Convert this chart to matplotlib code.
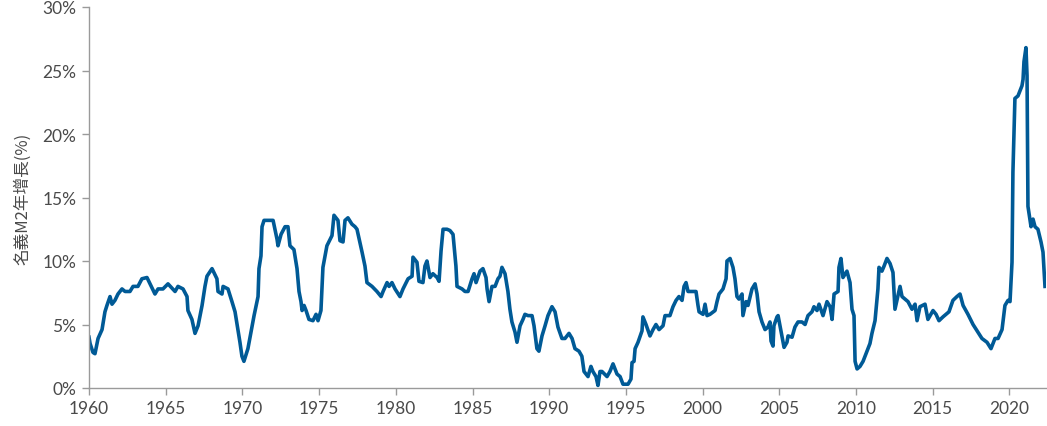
import matplotlib
matplotlib.use("Agg")
import matplotlib.pyplot as plt
from matplotlib.ticker import FuncFormatter

# Decimal year and nominal M2 YoY growth (%)
years = [
    1960.00, 1960.07, 1960.26, 1960.39, 1960.59, 1960.85, 1961.04, 1961.17, 1961.37, 1961.50,
    1961.69, 1961.89, 1962.15, 1962.35, 1962.67, 1962.87, 1963.19, 1963.45, 1963.78, 1963.98,
    1964.30, 1964.50, 1964.82, 1965.15, 1965.61, 1965.80, 1966.13, 1966.39, 1966.45, 1966.71,
    1966.91, 1967.11, 1967.37, 1967.56, 1967.69, 1968.02, 1968.34, 1968.41, 1968.67, 1968.74,
    1969.06, 1969.32, 1969.52, 1969.71, 1969.84, 1969.97, 1970.10, 1970.36, 1970.56, 1970.76,
    1971.02, 1971.08, 1971.21, 1971.28, 1971.41, 1971.67, 1972.00, 1972.26, 1972.32, 1972.52,
    1972.78, 1972.97, 1973.10, 1973.36, 1973.56, 1973.69, 1973.82, 1973.89, 1974.02, 1974.15,
    1974.34, 1974.60, 1974.80, 1974.93, 1975.12, 1975.25, 1975.51, 1975.84, 1975.97, 1976.23,
    1976.36, 1976.56, 1976.69, 1976.88, 1977.14, 1977.34, 1977.47, 1977.80, 1977.99, 1978.12,
    1978.45, 1978.77, 1979.04, 1979.17, 1979.43, 1979.56, 1979.75, 1979.95, 1980.27, 1980.47,
    1980.80, 1981.06, 1981.12, 1981.38, 1981.51, 1981.77, 1981.90, 1982.03, 1982.23, 1982.42,
    1982.69, 1982.82, 1982.95, 1983.08, 1983.34, 1983.53, 1983.73, 1983.92, 1983.99, 1984.32,
    1984.51, 1984.71, 1984.97, 1985.10, 1985.23, 1985.49, 1985.68, 1985.88, 1985.95, 1986.08,
    1986.27, 1986.47, 1986.66, 1986.79, 1986.92, 1987.12, 1987.31, 1987.44, 1987.57, 1987.77,
    1987.90, 1988.10, 1988.29, 1988.42, 1988.62, 1988.88, 1989.01, 1989.20, 1989.33, 1989.53,
    1989.73, 1989.92, 1990.18, 1990.38, 1990.57, 1990.83, 1991.03, 1991.29, 1991.49, 1991.68,
    1991.94, 1992.13, 1992.27, 1992.53, 1992.72, 1992.85, 1993.05, 1993.18, 1993.31, 1993.44,
    1993.77, 1993.96, 1994.16, 1994.42, 1994.62, 1994.81, 1995.14, 1995.33, 1995.40, 1995.53,
    1995.60, 1995.79, 1996.05, 1996.11, 1996.31, 1996.57, 1996.77, 1996.96, 1997.16, 1997.42,
    1997.55, 1997.87, 1998.07, 1998.27, 1998.46, 1998.66, 1998.79, 1998.92, 1999.05, 1999.37,
    1999.57, 1999.70, 1999.77, 2000.03, 2000.16, 2000.29, 2000.48, 2000.81, 2000.94, 2001.07,
    2001.33, 2001.53, 2001.59, 2001.79, 2001.98, 2002.11, 2002.24, 2002.37, 2002.57, 2002.63,
    2002.83, 2002.96, 2003.22, 2003.42, 2003.55, 2003.68, 2003.87, 2004.07, 2004.26, 2004.39,
    2004.46, 2004.59, 2004.65, 2004.85, 2004.92, 2005.11, 2005.31, 2005.50, 2005.57, 2005.83,
    2006.02, 2006.22, 2006.48, 2006.68, 2006.87, 2007.13, 2007.26, 2007.46, 2007.59, 2007.85,
    2008.11, 2008.31, 2008.44, 2008.57, 2008.83, 2008.89, 2009.02, 2009.15, 2009.41, 2009.61,
    2009.74, 2009.87, 2009.94, 2010.07, 2010.26, 2010.46, 2010.72, 2010.91, 2011.04, 2011.24,
    2011.43, 2011.50, 2011.69, 2011.83, 2012.02, 2012.22, 2012.41, 2012.54, 2012.67, 2012.87,
    2013.00, 2013.19, 2013.39, 2013.65, 2013.85, 2013.98, 2014.17, 2014.50, 2014.69, 2015.02,
    2015.22, 2015.41, 2015.67, 2015.87, 2016.06, 2016.32, 2016.58, 2016.78, 2016.98, 2017.30,
    2017.63, 2017.95, 2018.21, 2018.54, 2018.80, 2019.06, 2019.26, 2019.52, 2019.71, 2019.91,
    2020.04, 2020.17, 2020.23, 2020.36, 2020.56, 2020.82, 2020.89, 2020.95, 2021.08, 2021.15,
    2021.21, 2021.41, 2021.54, 2021.67, 2021.86, 2022.06, 2022.19, 2022.32,
]
m2_growth = [
    4.0, 3.5, 2.8, 2.7, 3.9, 4.6, 6.0, 6.5, 7.2, 6.6,
    6.9, 7.4, 7.8, 7.6, 7.6, 8.0, 8.0, 8.6, 8.7, 8.2,
    7.4, 7.8, 7.8, 8.2, 7.6, 8.0, 7.8, 7.2, 6.1, 5.4,
    4.3, 4.9, 6.5, 8.0, 8.8, 9.4, 8.6, 7.6, 7.4, 8.0,
    7.8, 6.8, 6.0, 4.6, 3.6, 2.5, 2.1, 3.1, 4.4, 5.7,
    7.2, 9.4, 10.4, 12.7, 13.2, 13.2, 13.2, 11.7, 11.2, 12.1,
    12.7, 12.7, 11.2, 10.9, 9.4, 7.6, 6.8, 6.1, 6.5, 6.1,
    5.4, 5.3, 5.8, 5.3, 6.1, 9.5, 11.2, 12.0, 13.6, 13.2,
    11.6, 11.5, 13.2, 13.4, 12.9, 12.7, 12.5, 10.7, 9.6, 8.3,
    8.0, 7.6, 7.2, 7.6, 8.3, 8.0, 8.3, 7.8, 7.2, 7.8,
    8.6, 8.8, 10.3, 9.9, 8.4, 8.3, 9.6, 10.0, 8.7, 9.0,
    8.7, 8.4, 10.8, 12.5, 12.5, 12.4, 12.1, 9.6, 8.0, 7.8,
    7.6, 7.6, 8.6, 9.0, 8.3, 9.2, 9.4, 8.7, 7.8, 6.8,
    8.0, 8.0, 8.6, 8.8, 9.5, 9.0, 7.6, 6.2, 5.2, 4.4,
    3.6, 4.9, 5.4, 5.8, 5.7, 5.7, 4.9, 3.1, 2.9, 4.1,
    4.9, 5.7, 6.4, 6.0, 4.8, 3.9, 3.9, 4.3, 3.9, 3.1,
    2.9, 2.5, 1.3, 0.9, 1.7, 1.3, 0.9, 0.2, 1.3, 1.3,
    0.9, 1.3, 1.9, 1.1, 0.9, 0.3, 0.3, 0.7, 2.0, 2.1,
    3.1, 3.6, 4.5, 5.6, 5.0, 4.1, 4.6, 5.0, 4.6, 4.9,
    5.7, 5.7, 6.4, 6.9, 7.2, 6.9, 8.0, 8.3, 7.6, 7.6,
    7.6, 6.5, 6.0, 5.8, 6.6, 5.7, 5.8, 6.1, 6.8, 7.4,
    7.8, 8.6, 10.0, 10.2, 9.5, 8.6, 7.2, 7.0, 7.4, 5.7,
    6.8, 6.5, 7.8, 8.2, 7.4, 6.0, 5.2, 4.6, 4.8, 5.2,
    3.7, 3.3, 4.9, 5.6, 5.7, 4.5, 3.2, 3.6, 4.1, 4.0,
    4.8, 5.2, 5.2, 5.0, 5.7, 6.0, 6.4, 6.1, 6.6, 5.7,
    6.8, 6.4, 5.4, 7.4, 7.6, 9.5, 10.2, 8.7, 9.2, 8.3,
    6.2, 5.7, 2.1, 1.5, 1.7, 2.1, 2.9, 3.5, 4.3, 5.3,
    7.8, 9.5, 9.2, 9.6, 10.2, 9.8, 9.1, 6.2, 6.9, 8.0,
    7.2, 7.0, 6.8, 6.2, 6.6, 5.3, 6.4, 6.6, 5.4, 6.1,
    5.8, 5.3, 5.6, 5.8, 6.0, 6.9, 7.2, 7.4, 6.5, 5.8,
    5.0, 4.4, 3.9, 3.6, 3.1, 3.9, 3.9, 4.6, 6.5, 6.9,
    6.8, 9.9, 17.0, 22.8, 23.0, 23.8, 24.3, 25.7, 26.8, 24.6,
    14.3, 12.7, 13.3, 12.7, 12.5, 11.5, 10.7, 8.0,
]
x_ticks = [1960, 1965, 1970, 1975, 1980, 1985, 1990, 1995, 2000, 2005, 2010, 2015, 2020]
y_ticks = [0, 5, 10, 15, 20, 25, 30]
y_label = "名義M2年增長(%)"

plt.rcParams['font.family'] = ['Lato', 'Noto Sans CJK TC', 'DejaVu Sans']

fig = plt.figure(figsize=(10.47, 4.27), dpi=100)
ax = fig.add_axes([89 / 1047, 1 - 389 / 427, (1046 - 89) / 1047, (389 - 8) / 427])

ax.plot(years, m2_growth, color='#005A96', linewidth=2.6, solid_joinstyle='round')

ax.set_xlim(1960, 1960 + (1046 - 89) / 15.34)
ax.set_ylim(0, 30)
ax.set_xticks(x_ticks)
ax.set_yticks(y_ticks)
ax.yaxis.set_major_formatter(FuncFormatter(lambda v, p: f"{int(v)}%"))

for s in ['top', 'right']:
    ax.spines[s].set_visible(False)
for s in ['left', 'bottom']:
    ax.spines[s].set_color('#9a9a9a')
    ax.spines[s].set_linewidth(1.0)

ax.tick_params(axis='both', color='#9a9a9a', length=5, width=1.0, pad=4)
for lbl in ax.get_xticklabels() + ax.get_yticklabels():
    lbl.set_fontsize(12.5)
    lbl.set_color('#4a4a4a')

ax.set_ylabel(y_label, family=['Noto Sans CJK TC', 'DejaVu Sans'], fontsize=12,
              color='#4a4a4a', fontweight='light', labelpad=8)

fig.savefig('out.png', dpi=100)
